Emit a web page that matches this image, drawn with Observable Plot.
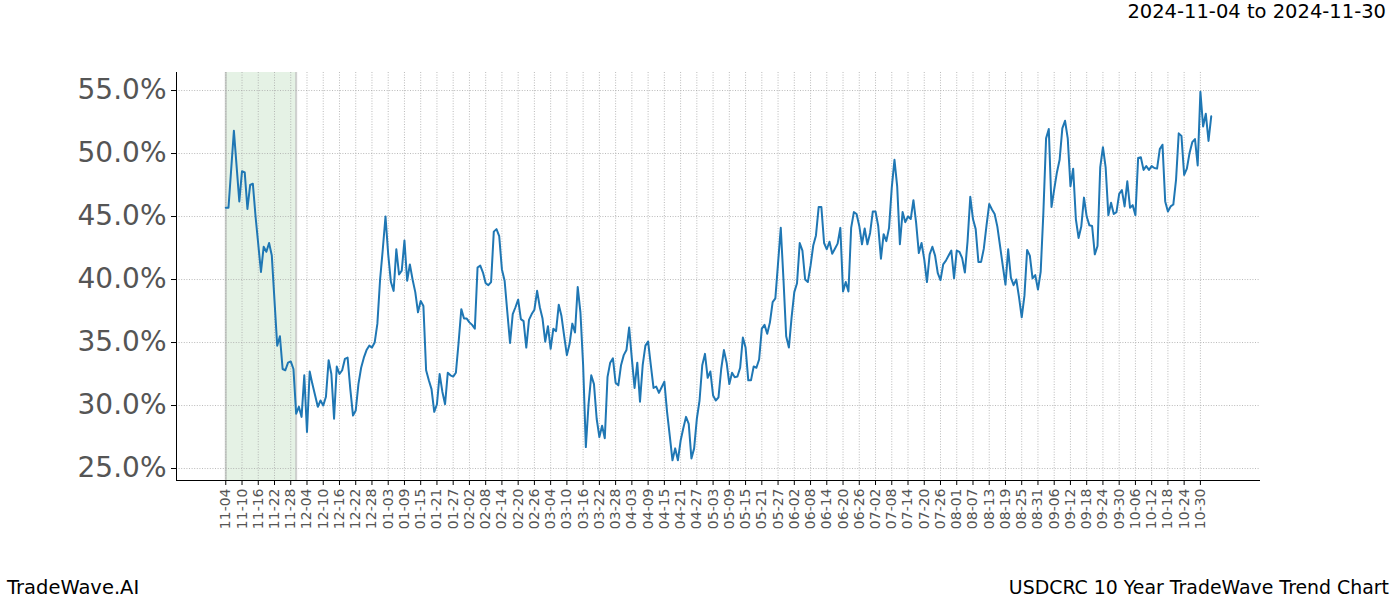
<!DOCTYPE html>
<html><head><meta charset="utf-8">
<script src="https://cdn.jsdelivr.net/npm/d3@7"></script>
<script src="https://cdn.jsdelivr.net/npm/@observablehq/plot@0.6"></script>
<style>
body{margin:0;background:#fff;font-family:"DejaVu Sans",sans-serif;}
#wrap{position:relative;width:1400px;height:600px;overflow:hidden;}
#wrap svg{position:absolute;left:0;top:0;}
.t{position:absolute;font-size:19.5px;color:#000;white-space:nowrap;line-height:1;z-index:2;}
</style></head><body>
<div id="wrap">
<div class="t" style="right:14px;top:2px">2024-11-04 to 2024-11-30</div>
<div class="t" style="left:7px;top:578px">TradeWave.AI</div>
<div class="t" style="right:11px;top:578px;font-size:18.9px">USDCRC 10 Year TradeWave Trend Chart</div>
</div>
<script>
const dates = ["2024-11-04","2024-11-05","2024-11-07","2024-11-09","2024-11-10","2024-11-11","2024-11-12","2024-11-13","2024-11-14","2024-11-15","2024-11-17","2024-11-18","2024-11-19","2024-11-20","2024-11-21","2024-11-23","2024-11-24","2024-11-25","2024-11-26","2024-11-27","2024-11-28","2024-11-29","2024-11-30","2024-12-01","2024-12-02","2024-12-03","2024-12-04","2024-12-05","2024-12-06","2024-12-08","2024-12-09","2024-12-10","2024-12-11","2024-12-12","2024-12-13","2024-12-14","2024-12-15","2024-12-16","2024-12-17","2024-12-18","2024-12-19","2024-12-20","2024-12-21","2024-12-22","2024-12-23","2024-12-24","2024-12-25","2024-12-26","2024-12-27","2024-12-28","2024-12-29","2024-12-30","2024-12-31",
"2025-01-01","2025-01-02","2025-01-03","2025-01-04","2025-01-05","2025-01-06","2025-01-07","2025-01-08","2025-01-09","2025-01-10","2025-01-11","2025-01-12","2025-01-13","2025-01-14","2025-01-15","2025-01-16","2025-01-17","2025-01-18","2025-01-19","2025-01-20","2025-01-21","2025-01-22","2025-01-23","2025-01-24","2025-01-25","2025-01-26","2025-01-27","2025-01-28","2025-01-29","2025-01-30","2025-01-31",
"2025-02-01","2025-02-02","2025-02-03","2025-02-04","2025-02-05","2025-02-06","2025-02-07","2025-02-08","2025-02-09","2025-02-10","2025-02-11","2025-02-12","2025-02-13","2025-02-14","2025-02-15","2025-02-16","2025-02-17","2025-02-18","2025-02-19","2025-02-20","2025-02-21","2025-02-22","2025-02-23","2025-02-24","2025-02-25","2025-02-26","2025-02-27","2025-02-28",
"2025-03-01","2025-03-02","2025-03-03","2025-03-04","2025-03-05","2025-03-06","2025-03-07","2025-03-08","2025-03-09","2025-03-10","2025-03-11","2025-03-12","2025-03-13","2025-03-14","2025-03-15","2025-03-16","2025-03-17","2025-03-18","2025-03-19","2025-03-20","2025-03-21","2025-03-22","2025-03-23","2025-03-24","2025-03-25","2025-03-26","2025-03-27","2025-03-28","2025-03-29","2025-03-30","2025-03-31",
"2025-04-01","2025-04-02","2025-04-03","2025-04-04","2025-04-05","2025-04-06","2025-04-07","2025-04-08","2025-04-09","2025-04-10","2025-04-11","2025-04-12","2025-04-13","2025-04-14","2025-04-15","2025-04-16","2025-04-17","2025-04-18","2025-04-19","2025-04-20","2025-04-21","2025-04-22","2025-04-23","2025-04-24","2025-04-25","2025-04-26","2025-04-27","2025-04-28","2025-04-29","2025-04-30",
"2025-05-01","2025-05-02","2025-05-03","2025-05-04","2025-05-05","2025-05-06","2025-05-07","2025-05-08","2025-05-09","2025-05-10","2025-05-11","2025-05-12","2025-05-13","2025-05-14","2025-05-15","2025-05-16","2025-05-17","2025-05-18","2025-05-19","2025-05-20","2025-05-21","2025-05-22","2025-05-23","2025-05-24","2025-05-25","2025-05-26","2025-05-27","2025-05-28","2025-05-29","2025-05-30","2025-05-31",
"2025-06-01","2025-06-02","2025-06-03","2025-06-04","2025-06-05","2025-06-06","2025-06-07","2025-06-08","2025-06-09","2025-06-10","2025-06-11","2025-06-12","2025-06-13","2025-06-14","2025-06-15","2025-06-16","2025-06-17","2025-06-18","2025-06-19","2025-06-20","2025-06-21","2025-06-22","2025-06-23","2025-06-24","2025-06-25","2025-06-26","2025-06-27","2025-06-28","2025-06-29","2025-06-30",
"2025-07-01","2025-07-02","2025-07-03","2025-07-04","2025-07-05","2025-07-06","2025-07-07","2025-07-08","2025-07-09","2025-07-10","2025-07-11","2025-07-12","2025-07-13","2025-07-14","2025-07-15","2025-07-16","2025-07-17","2025-07-18","2025-07-19","2025-07-20","2025-07-21","2025-07-22","2025-07-23","2025-07-24","2025-07-25","2025-07-26","2025-07-27","2025-07-28","2025-07-29","2025-07-30","2025-07-31",
"2025-08-01","2025-08-02","2025-08-03","2025-08-04","2025-08-05","2025-08-06","2025-08-07","2025-08-08","2025-08-09","2025-08-10","2025-08-11","2025-08-12","2025-08-13","2025-08-14","2025-08-15","2025-08-16","2025-08-17","2025-08-18","2025-08-19","2025-08-20","2025-08-21","2025-08-22","2025-08-23","2025-08-24","2025-08-25","2025-08-26","2025-08-27","2025-08-28","2025-08-29","2025-08-30","2025-08-31",
"2025-09-01","2025-09-02","2025-09-03","2025-09-04","2025-09-05","2025-09-06","2025-09-07","2025-09-08","2025-09-09","2025-09-10","2025-09-11","2025-09-12","2025-09-13","2025-09-14","2025-09-15","2025-09-16","2025-09-17","2025-09-18","2025-09-19","2025-09-20","2025-09-21","2025-09-22","2025-09-23","2025-09-24","2025-09-25","2025-09-26","2025-09-27","2025-09-28","2025-09-29","2025-09-30",
"2025-10-01","2025-10-02","2025-10-03","2025-10-04","2025-10-05","2025-10-06","2025-10-07","2025-10-08","2025-10-09","2025-10-10","2025-10-11","2025-10-12","2025-10-13","2025-10-14","2025-10-15","2025-10-16","2025-10-17","2025-10-18","2025-10-19","2025-10-20","2025-10-21","2025-10-22","2025-10-23","2025-10-24","2025-10-25","2025-10-26","2025-10-27","2025-10-28","2025-10-29","2025-10-30","2025-10-31",
"2025-11-01","2025-11-02","2025-11-03"];

const values = [45.7,45.7,51.8,46.2,48.6,48.5,45.6,47.5,47.6,45.0,40.6,42.6,42.2,42.9,41.9,34.75,35.5,32.9,32.8,33.4,33.5,32.9,29.35,29.9,29.1,32.4,27.9,32.7,31.7,29.9,30.4,30.0,30.7,33.6,32.5,28.95,33.1,32.5,32.8,33.7,33.8,31.3,29.2,29.6,31.7,33.0,33.8,34.4,34.75,34.6,35.0,36.5,40.0,
42.4,45.0,42.0,39.8,39.1,42.4,40.4,40.7,43.1,39.9,41.2,40.0,39.0,37.4,38.3,37.9,32.8,32.0,31.3,29.5,30.1,32.5,31.1,30.1,32.6,32.4,32.3,32.6,35.0,37.65,36.9,
36.9,36.6,36.4,36.1,40.95,41.1,40.55,39.7,39.55,39.8,43.8,44.0,43.45,40.8,39.9,37.4,34.96,37.26,37.8,38.4,36.86,36.7,34.6,36.8,37.26,37.6,39.1,37.8,
36.9,35.07,36.3,34.5,36.1,35.9,38.0,37.1,35.5,34.0,34.9,36.5,35.8,39.4,37.4,33.2,26.7,30.1,32.4,31.7,28.95,27.5,28.4,27.4,32.25,33.4,33.75,31.8,31.6,33.2,34.0,
34.4,36.2,33.7,31.4,33.4,30.3,33.2,34.75,35.07,33.2,31.4,31.5,31.0,31.45,31.9,29.5,27.6,25.65,26.6,25.65,27.2,28.2,29.1,28.55,25.8,26.6,28.95,30.4,33.2,34.1,
32.2,32.7,30.8,30.4,30.65,32.9,34.4,33.4,31.7,32.6,32.25,32.3,33.0,35.4,34.6,32.0,32.0,33.1,33.0,33.65,36.1,36.4,35.7,36.6,38.2,38.5,41.3,44.1,40.0,35.5,34.6,
37.0,39.0,39.7,42.9,42.3,40.0,39.8,41.1,42.7,43.5,45.75,45.75,42.9,42.4,43.0,42.05,42.45,42.85,44.1,39.05,39.8,39.05,44.1,45.35,45.2,44.25,42.8,44.05,42.8,43.7,
45.4,45.4,44.25,41.65,43.6,43.05,44.1,47.3,49.5,47.4,42.8,45.35,44.55,45.0,44.8,46.3,44.5,42.1,42.9,41.6,39.8,42.0,42.6,41.9,40.5,39.95,41.2,41.5,41.9,42.3,40.1,
42.3,42.2,41.7,40.55,43.05,46.56,44.8,44.0,41.4,41.4,42.45,44.3,46.0,45.56,45.2,44.2,42.66,41.1,39.6,42.4,40.15,39.55,40.0,38.6,37.0,38.7,42.35,41.9,40.1,40.35,39.2,
40.6,45.3,51.2,51.95,45.75,47.15,48.5,49.5,52.0,52.6,51.2,47.4,48.8,44.8,43.3,44.2,46.5,45.0,44.3,44.25,42.0,42.66,48.9,50.5,48.9,45.1,46.1,45.2,45.35,46.8,
47.1,45.8,47.8,45.7,45.9,45.1,49.65,49.7,48.7,49.0,48.7,49.0,48.85,48.8,50.35,50.7,46.2,45.4,45.8,45.95,47.9,51.6,51.4,48.3,48.8,50.05,50.9,51.15,49.05,54.9,52.15,
53.15,51.0,52.95];

const xTicks = ["2024-11-04","2024-11-10","2024-11-16","2024-11-22","2024-11-28","2024-12-04","2024-12-10","2024-12-16","2024-12-22","2024-12-28","2025-01-03","2025-01-09","2025-01-15","2025-01-21","2025-01-27","2025-02-02","2025-02-08","2025-02-14","2025-02-20","2025-02-26","2025-03-04","2025-03-10","2025-03-16","2025-03-22","2025-03-28","2025-04-03","2025-04-09","2025-04-15","2025-04-21","2025-04-27","2025-05-03","2025-05-09","2025-05-15","2025-05-21","2025-05-27","2025-06-02","2025-06-08","2025-06-14","2025-06-20","2025-06-26","2025-07-02","2025-07-08","2025-07-14","2025-07-20","2025-07-26","2025-08-01","2025-08-07","2025-08-13","2025-08-19","2025-08-25","2025-08-31","2025-09-06","2025-09-12","2025-09-18","2025-09-24","2025-09-30","2025-10-06","2025-10-12","2025-10-18","2025-10-24","2025-10-30"];
const yTicks = [25, 30, 35, 40, 45, 50, 55];
const highlight = ["2024-11-04", "2024-11-30"];
const yDomain = [24.05, 56.43];

const parse = d3.utcParse("%Y-%m-%d");
const data = dates.map((d, i) => ({date: parse(d), value: values[i]}));
const x0 = parse(dates[0]), x1 = parse(dates[dates.length - 1]);
const span = x1 - x0;
const xDomain = [new Date(+x0 - 0.05 * span), new Date(+x1 + 0.05 * span)];
const xt = xTicks.map(parse);
const band = [{x1: parse(highlight[0]), x2: parse(highlight[1])}];
const gridStyle = {stroke: "#a8a8a8", strokeOpacity: 1, strokeWidth: 0.8, strokeDasharray: "1,1.6"};

const chart = Plot.plot({
  width: 1400, height: 600,
  marginLeft: 176, marginRight: 140, marginTop: 72, marginBottom: 120,
  x: {type: "utc", domain: xDomain},
  y: {domain: yDomain},
  style: {fontFamily: "DejaVu Sans, sans-serif", background: "transparent"},
  marks: [
    Plot.rect(band, {x1: "x1", x2: "x2", fill: "#008000", fillOpacity: 0.1}),
    Plot.ruleX(band.flatMap(d => [d.x1, d.x2]), {stroke: "#999", strokeOpacity: 0.45, strokeWidth: 2}),
    Plot.gridY(yTicks, gridStyle),
    Plot.gridX(xt, gridStyle),
    Plot.lineY(data, {x: "date", y: "value", stroke: "#1f77b4", strokeWidth: 2}),
    Plot.ruleX([xDomain[0]], {stroke: "#000", strokeWidth: 1}),
    Plot.ruleY([yDomain[0]], {stroke: "#000", strokeWidth: 1}),
    Plot.axisY(yTicks, {tickFormat: d => d.toFixed(1) + "%", fontSize: 28, tickSize: 5, tickPadding: 5, stroke: "#000", fill: "#555", label: null}),
    Plot.axisX(xt, {tickFormat: d3.utcFormat("%m-%d"), tickRotate: -90, fontSize: 14, tickSize: 5, tickPadding: 3, stroke: "#000", fill: "#555", label: null})
  ]
});
document.getElementById("wrap").prepend(chart);
</script>
</body></html>
